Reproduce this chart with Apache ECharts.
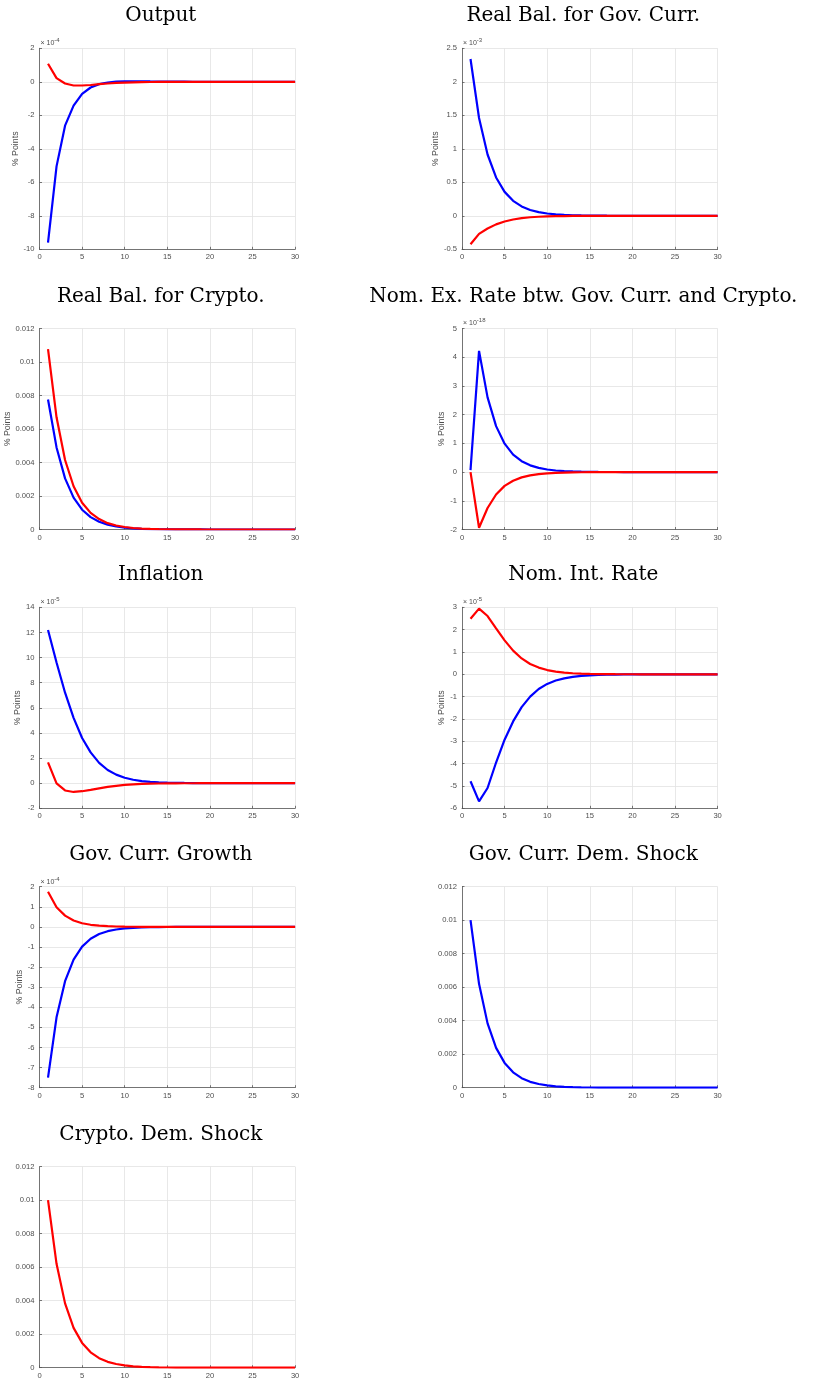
<!DOCTYPE html>
<html><head><meta charset="utf-8">
<script src="https://cdn.jsdelivr.net/npm/echarts@6/dist/echarts.min.js"></script>
<style>html,body{margin:0;padding:0;background:#fff}#chart{width:813px;height:1382px}</style>
</head><body><div id="chart"></div>
<script>
// ---------------- DATA ----------------
const periods = [1,2,3,4,5,6,7,8,9,10,11,12,13,14,15,16,17,18,19,20,21,22,23,24,25,26,27,28,29,30];

const titles = ['Output', 'Real Bal. for Gov. Curr.', 'Real Bal. for Crypto.',
  'Nom. Ex. Rate btw. Gov. Curr. and Crypto.', 'Inflation', 'Nom. Int. Rate',
  'Gov. Curr. Growth', 'Gov. Curr. Dem. Shock', 'Crypto. Dem. Shock'];

// y-axis ticks (values shown in units of 10^exponent where an exponent is given)
const yMin  = [-10, -0.5, 0, -2, -2, -6, -8, 0, 0];
const yMax  = [2, 2.5, 0.012, 5, 14, 3, 2, 0.012, 0.012];
const yStep = [2, 0.5, 0.002, 1, 2, 1, 1, 0.002, 0.002];
const yExponent = ['-4', '-3', null, '-18', '-5', '-5', '-4', null, null];
const yLabel = ['% Points', '% Points', '% Points', '% Points', '% Points', '% Points', '% Points', null, null];

// blue = gov. curr. demand shock, red = crypto demand shock
const outputGov    = [-9.6,-5.05,-2.62,-1.42,-0.72,-0.34,-0.14,-0.04,0.01,0.03,0.03,0.03,0.02,0.015,0.01,0.007,0.005,0.003,0.002,0.001,0.001,0,0,0,0,0,0,0,0,0];
const outputCrypto = [1.08,0.22,-0.1,-0.22,-0.22,-0.19,-0.14,-0.1,-0.07,-0.045,-0.03,-0.02,-0.012,-0.008,-0.005,-0.003,-0.002,-0.001,-0.001,0,0,0,0,0,0,0,0,0,0,0];

const realGovGov    = [2.34,1.46,0.915,0.572,0.357,0.223,0.14,0.087,0.054,0.034,0.021,0.013,0.008,0.005,0.003,0.002,0.0012,0.0008,0.0005,0.0003,0.0002,0.0001,0,0,0,0,0,0,0,0];
const realGovCrypto = [-0.425,-0.27,-0.19,-0.128,-0.085,-0.055,-0.035,-0.022,-0.014,-0.009,-0.006,-0.004,-0.0025,-0.0016,-0.001,-0.0006,-0.0004,-0.0002,-0.0001,0,0,0,0,0,0,0,0,0,0,0];

const realCryptoGov    = [0.00776,0.0049,0.00305,0.0019,0.00118,0.00074,0.00046,0.00029,0.00018,0.00011,0.00007,0.000043,0.000027,0.000017,0.00001,0.0000065,0.000004,0.0000025,0.0000016,0.000001,0.0000006,0.0000004,0.0000002,0.0000001,0.0000001,0,0,0,0,0];
const realCryptoCrypto = [0.01077,0.0067,0.00415,0.00258,0.0016,0.00099,0.00062,0.00038,0.00024,0.00015,0.00009,0.000057,0.000035,0.000022,0.000014,0.0000085,0.0000053,0.0000033,0.000002,0.0000013,0.0000008,0.0000005,0.0000003,0.0000002,0.0000001,0.0000001,0,0,0,0];

const exRateGov    = [0.07,4.22,2.6,1.6,0.99,0.61,0.38,0.235,0.145,0.09,0.055,0.034,0.021,0.013,0.008,0.005,0.003,0.002,0.0012,0.0008,0.0005,0.0003,0.0002,0.0001,0,0,0,0,0,0];
const exRateCrypto = [0,-1.94,-1.25,-0.78,-0.48,-0.3,-0.185,-0.115,-0.071,-0.044,-0.027,-0.017,-0.0105,-0.0065,-0.004,-0.0025,-0.0015,-0.0009,-0.0006,-0.0004,-0.0002,-0.0001,0,0,0,0,0,0,0,0];

const inflationGov    = [12.2,9.6,7.2,5.2,3.6,2.45,1.62,1.05,0.68,0.43,0.27,0.17,0.11,0.07,0.045,0.028,0.018,0.011,0.007,0.0045,0.003,0.002,0.001,0.001,0,0,0,0,0,0];
const inflationCrypto = [1.65,-0.02,-0.58,-0.7,-0.64,-0.53,-0.41,-0.3,-0.21,-0.14,-0.095,-0.063,-0.041,-0.027,-0.017,-0.011,-0.007,-0.0045,-0.003,-0.002,-0.001,-0.001,0,0,0,0,0,0,0,0];

const intRateGov    = [-4.79,-5.69,-5.09,-3.95,-2.93,-2.11,-1.47,-1.0,-0.66,-0.43,-0.28,-0.18,-0.115,-0.073,-0.046,-0.029,-0.018,-0.011,-0.007,-0.0045,-0.0028,-0.0017,-0.001,-0.0006,-0.0004,-0.0002,-0.0001,0,0,0];
const intRateCrypto = [2.49,2.94,2.61,2.06,1.52,1.06,0.71,0.46,0.3,0.19,0.12,0.075,0.047,0.029,0.018,0.011,0.007,0.0043,0.0027,0.0017,0.001,0.0006,0.0004,0.0002,0.0001,0,0,0,0,0];

const growthGov    = [-7.5,-4.5,-2.7,-1.63,-0.98,-0.59,-0.355,-0.213,-0.128,-0.077,-0.046,-0.028,-0.017,-0.01,-0.006,-0.0036,-0.0022,-0.0013,-0.0008,-0.0005,-0.0003,-0.0002,-0.0001,0,0,0,0,0,0,0];
const growthCrypto = [1.75,0.98,0.56,0.32,0.18,0.105,0.06,0.034,0.02,0.011,0.0065,0.0037,0.0021,0.0012,0.0007,0.0004,0.0002,0.0001,0,0,0,0,0,0,0,0,0,0,0,0];

const govShockGov = [0.01,0.0062,0.00384,0.00238,0.00148,0.00092,0.00057,0.00035,0.00022,0.000136,0.000084,0.000052,0.000032,0.00002,0.0000125,0.0000078,0.0000048,0.000003,0.0000018,0.0000011,0.0000007,0.0000004,0.0000003,0.0000002,0.0000001,0.0000001,0,0,0,0];
const cryptoShockCrypto = [0.01,0.0062,0.00384,0.00238,0.00148,0.00092,0.00057,0.00035,0.00022,0.000136,0.000084,0.000052,0.000032,0.00002,0.0000125,0.0000078,0.0000048,0.000003,0.0000018,0.0000011,0.0000007,0.0000004,0.0000003,0.0000002,0.0000001,0.0000001,0,0,0,0];

const xTicks = {min: 0, max: 30, step: 5};

// ---------------- LAYOUT / STYLE ----------------
const BLUE = '#0000ff', RED = '#ff0000';
const panelSeries = [
  [[outputGov, BLUE], [outputCrypto, RED]],
  [[realGovGov, BLUE], [realGovCrypto, RED]],
  [[realCryptoGov, BLUE], [realCryptoCrypto, RED]],
  [[exRateGov, BLUE], [exRateCrypto, RED]],
  [[inflationGov, BLUE], [inflationCrypto, RED]],
  [[intRateGov, BLUE], [intRateCrypto, RED]],
  [[growthGov, BLUE], [growthCrypto, RED]],
  [[govShockGov, BLUE]],
  [[cryptoShockCrypto, RED]]
];
const colLeft = [39.5, 462];
const rowTop = [48.3, 328.5, 607.3, 886.7, 1166.7];
const plotW = 255.6, plotH = 201;
const nameGaps = [19.2, 16.9, 25.9, 13.3, 15.9, 13.3, 13.9, 0, 0];
const SANS = 'Liberation Sans, Arial, Helvetica, sans-serif';
const TXT = '#4d4d4d', AXIS = '#555555', GRIDC = '#e2e2e2';

const grids = [], xAxes = [], yAxes = [], series = [], graphics = [];
for (let i = 0; i < 9; i++) {
  const row = Math.floor(i / 2), col = i % 2;
  const left = colLeft[col], top = rowTop[row];
  grids.push({left: left, top: top, width: plotW, height: plotH, containLabel: false, outerBoundsMode: 'none'});
  const common = {
    gridIndex: i, type: 'value',
    axisLine: {show: true, onZero: false, lineStyle: {color: AXIS, width: 0.8}},
    axisTick: {show: true, inside: true, length: 2.5, lineStyle: {color: AXIS, width: 0.8}},
    axisLabel: {fontSize: 7.6, color: TXT, fontFamily: SANS},
    splitLine: {show: true, lineStyle: {color: GRIDC, width: 0.8}}
  };
  xAxes.push(Object.assign({}, common, {
    min: xTicks.min, max: xTicks.max, interval: xTicks.step,
    axisLabel: Object.assign({}, common.axisLabel, {margin: 4})
  }));
  const y = Object.assign({}, common, {
    min: yMin[i], max: yMax[i], interval: yStep[i],
    axisLabel: Object.assign({}, common.axisLabel, {margin: 5})
  });
  if (yLabel[i]) {
    y.name = yLabel[i];
    y.nameLocation = 'middle';
    y.nameGap = nameGaps[i];
    y.nameTextStyle = {fontSize: 8.8, color: TXT, fontFamily: SANS};
  }
  yAxes.push(y);
  panelSeries[i].forEach(function (s) {
    series.push({
      type: 'line', xAxisIndex: i, yAxisIndex: i,
      data: periods.map(function (p, k) { return [p, s[0][k]]; }),
      showSymbol: false, symbol: 'none', smooth: false,
      lineStyle: {color: s[1], width: 2.2}, itemStyle: {color: s[1]},
      z: 3
    });
  });
  graphics.push({
    type: 'text', x: left + plotW / 2 - 6.5, y: top - 32.2,
    style: {text: titles[i], fill: '#000', font: '20px "DejaVu Serif"', textAlign: 'center', textVerticalAlign: 'middle'}
  });
  if (yExponent[i]) {
    graphics.push({
      type: 'text', x: left + 1, y: top - 5,
      style: {text: '× 10', fill: TXT, font: '7px ' + SANS, textAlign: 'left', textVerticalAlign: 'middle'}
    });
    graphics.push({
      type: 'text', x: left + 14.8, y: top - 7.8,
      style: {text: yExponent[i], fill: TXT, font: '6px ' + SANS, textAlign: 'left', textVerticalAlign: 'middle'}
    });
  }
}

const chart = echarts.init(document.getElementById('chart'), null, {renderer: 'canvas'});
chart.setOption({
  backgroundColor: '#ffffff',
  animation: false,
  grid: grids, xAxis: xAxes, yAxis: yAxes, series: series,
  graphic: graphics
});
</script></body></html>
